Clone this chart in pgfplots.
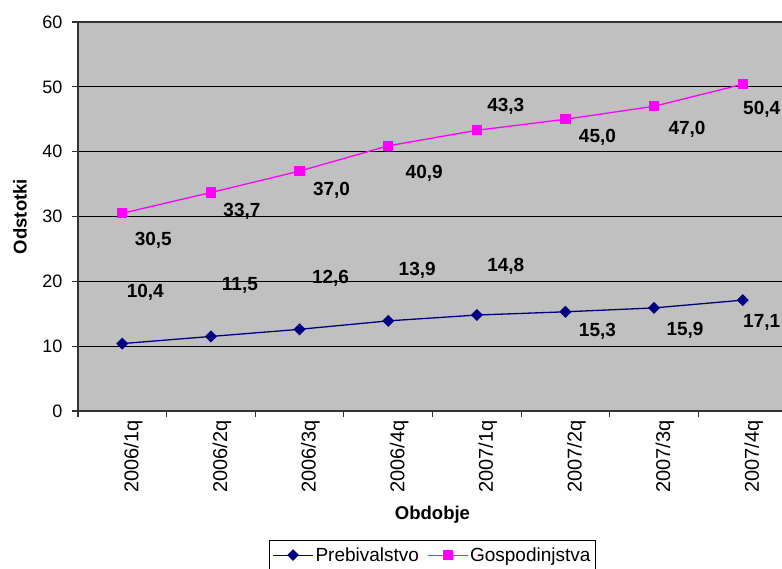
\documentclass[border=0pt]{standalone}
\usepackage{fontspec}
\setmainfont{Liberation Sans}
\usepackage{pgfplots}
\usepackage{pgfplotstable}
\pgfplotsset{compat=1.18}
\definecolor{prebc}{RGB}{0,0,128}
\definecolor{gospc}{RGB}{255,0,255}
\definecolor{bgc}{RGB}{192,192,192}

\pgfplotstableread{
x y dx dy lab
0 10.4 23 51 10,4
1 11.5 29 51 11,5
2 12.6 31 51 12,6
3 13.9 29 51 13,9
4 14.8 29 49 14,8
5 15.3 32 -20 15,3
6 15.9 31 -22 15,9
7 17.1 19 -22 17,1
}\preb
\pgfplotstableread{
x y dx dy lab
0 30.5 31 -27 30,5
1 33.7 31 -19 33,7
2 37.0 32 -19 37,0
3 40.9 36 -28 40,9
4 43.3 29 24 43,3
5 45.0 32 -18 45,0
6 47.0 33 -23 47,0
7 50.4 19 -25 50,4
}\gosp

\begin{document}
\begin{tikzpicture}
\begin{axis}[
  at={(78pt,157pt)}, anchor=south west,
  scale only axis, width=709pt, height=389pt,
  xmin=-0.5, xmax=7.5, ymin=0, ymax=60,
  clip=false,
  axis background/.style={fill=bgc},
  axis line style={draw=black!80, line width=1.2pt},
  ytick={0,10,...,60},
  ymajorgrids, major grid style={black, line width=0.8pt},
  xtick={0,...,7},
  xticklabels={2006/1q,2006/2q,2006/3q,2006/4q,2007/1q,2007/2q,2007/3q,2007/4q},
  minor xtick={-0.5,0.5,...,7.5},
  tick align=outside, tick pos=left,
  major x tick style={draw=none},
  major tick length=6pt, minor tick length=6pt,
  tick style={black!80, line width=1.2pt},
  /pgf/number format/assume math mode=true,
  ticklabel style={font=\fontsize{18}{20}\selectfont},
  xticklabel style={rotate=90, anchor=east, yshift=-11pt, font=\fontsize{20}{22}\selectfont},
  yticklabel style={xshift=-6pt},
  xlabel={\bfseries Obdobje},
  ylabel={\bfseries Odstotki},
  label style={font=\fontsize{18.5}{20}\selectfont},
  xlabel style={at={(axis description cs:0.5,0)}, anchor=center, yshift=-104pt},
  y label style={at={(-58pt,194.5pt)}, anchor=center},
  legend columns=2,
  legend style={at={(0.5,-0.3316)}, anchor=north, draw=black, line width=0.8pt,
    font=\fontsize{19}{26}\selectfont, inner sep=5pt, inner xsep=3pt,
    /tikz/every even column/.append style={column sep=6pt}},
  legend image code/.code={\draw[#1, line width=1pt, mark repeat=2, mark phase=2] plot coordinates {(0pt,0pt) (20pt,0pt) (40pt,0pt)};},
  nodes near coords={\pgfplotspointmeta},
  point meta=explicit symbolic,
  visualization depends on={\thisrow{dx} \as \myDX},
  visualization depends on={\thisrow{dy} \as \myDY},
  every node near coord/.append style={anchor=center, xshift=\myDX pt, yshift=\myDY pt,
    font=\fontsize{19}{21}\selectfont\bfseries, text=black},
]
\addplot[prebc, line width=1.3pt, mark=square*, mark size=3.6pt, mark options={solid, rotate=45}] table[x=x, y=y, meta=lab] {\preb};
\addlegendentry{Prebivalstvo}
\addplot[gospc, line width=1.3pt, mark=square*, mark size=4.5pt] table[x=x, y=y, meta=lab] {\gosp};
\addlegendentry{Gospodinjstva}
\end{axis}
\pgfresetboundingbox
\useasboundingbox (0pt,0pt) rectangle (782pt,568pt);
\end{tikzpicture}
\end{document}
